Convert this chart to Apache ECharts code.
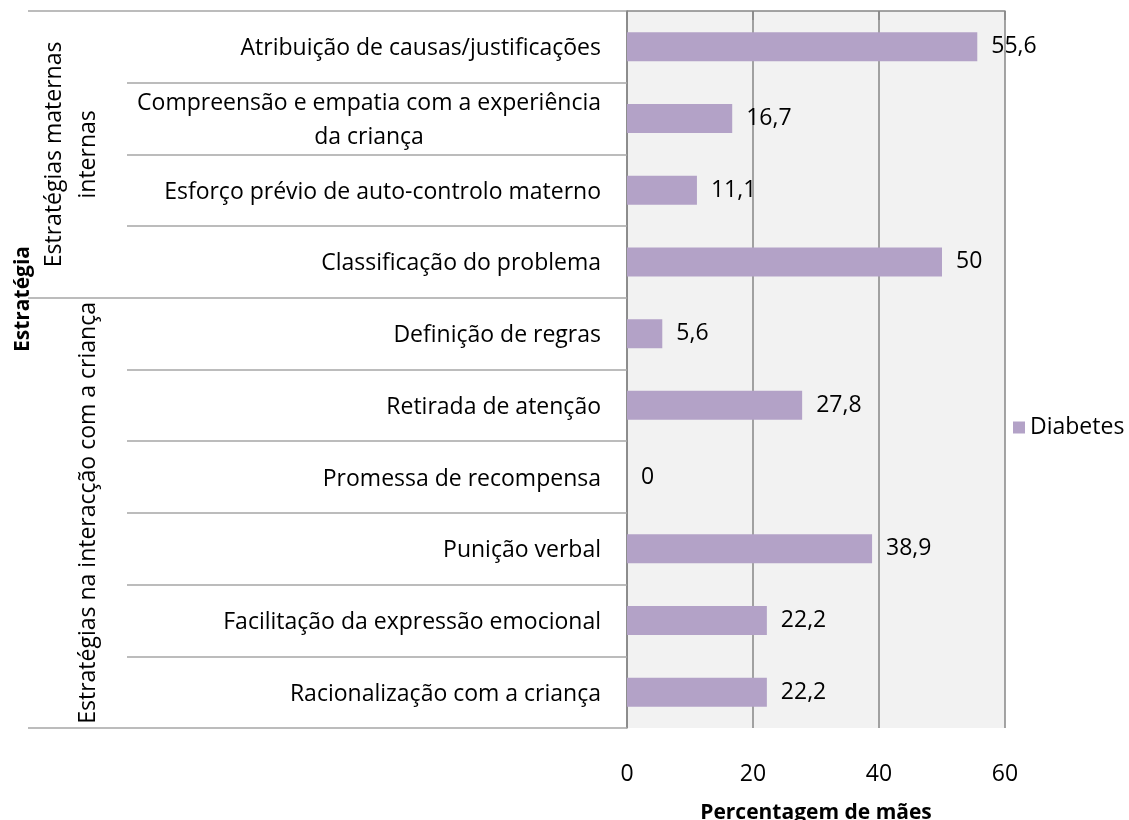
<!DOCTYPE html>
<html>
<head>
<meta charset="utf-8">
<script src="https://cdn.jsdelivr.net/npm/echarts@6/dist/echarts.min.js"></script>
<style>
  html, body { margin: 0; padding: 0; background: #fff; }
  #chart { width: 1129px; height: 820px; }
</style>
</head>
<body>
<div id="chart"></div>
<script>
// dados
const categorias = [
  'Atribuição de causas/justificações',
  'Compreensão e empatia com a experiência\nda criança',
  'Esforço prévio de auto-controlo materno',
  'Classificação do problema',
  'Definição de regras',
  'Retirada de atenção',
  'Promessa de recompensa',
  'Punição verbal',
  'Facilitação da expressão emocional',
  'Racionalização com a criança'
]
const diabetes = [55.6, 16.7, 11.1, 50, 5.6, 27.8, 0, 38.9, 22.2, 22.2]
const grupos = ['Estratégias maternas\ninternas', 'Estratégias na interacção com a criança']
const grupoInicio = [0, 4]
const grupoFim = [4, 10]
const xTicks = [0, 20, 40, 60]

const fonte = '"Open Sans", "Noto Sans", sans-serif'
const tam = 23
const tamNegrito = 21
const cinza = '#868686'
const cinzaClaro = '#a6a6a6'

// centro de cada grupo, em unidades de categoria
const grupoCentro = grupoInicio.map((s, i) => (s + grupoFim[i]) / 2)

let myChart = echarts.init(document.getElementById('chart'))
let option = {
  textStyle: { fontFamily: fonte },
  animation: false,
  legend: {
    data: ['Diabetes'],
    left: 1008,
    top: 411,
    icon: 'rect',
    itemWidth: 12,
    itemHeight: 12,
    itemGap: 5,
    textStyle: { fontSize: tam, color: '#000', fontFamily: fonte }
  },
  grid: {
    left: 627,
    right: 124,
    top: 11,
    bottom: 92,
    show: true,
    backgroundColor: '#f2f2f2',
    borderWidth: 0,
    outerBoundsMode: 'none'
  },
  graphic: [
    {
      type: 'text',
      x: 23,
      y: 299,
      rotation: Math.PI / 2,
      style: {
        text: 'Estratégia',
        font: 'bold ' + tamNegrito + 'px ' + fonte,
        fill: '#000',
        align: 'center',
        verticalAlign: 'middle'
      }
    }
  ],
  xAxis: {
    type: 'value',
    min: xTicks[0],
    max: xTicks[xTicks.length - 1],
    interval: xTicks[1] - xTicks[0],
    name: 'Percentagem de mães',
    nameLocation: 'middle',
    nameGap: 75,
    nameTextStyle: { fontSize: tamNegrito, fontWeight: 'bold', color: '#000', fontFamily: fonte },
    axisLine: { show: true, lineStyle: { color: cinza, width: 1.5 } },
    axisTick: { show: true, length: 9, lineStyle: { color: cinza, width: 1.5 } },
    axisLabel: { margin: 35, fontSize: tam, color: '#000', fontFamily: fonte },
    splitLine: { show: true, lineStyle: { color: cinza, width: 1.5 } }
  },
  yAxis: [
    {
      type: 'category',
      inverse: true,
      data: categorias,
      axisLine: { show: true, lineStyle: { color: cinza, width: 1.5 } },
      axisTick: { show: true, length: 500, lineStyle: { color: cinzaClaro, width: 1.5 } },
      axisLabel: {
        margin: 26,
        color: '#000',
        fontSize: tam,
        fontFamily: fonte,
        padding: [4, 0, 0, 0],
        formatter: function (v) {
          return v.split('\n').map(s => '{c|' + s + '}').join('\n')
        },
        rich: {
          c: { align: 'center', fontSize: tam, fontFamily: fonte, color: '#000', lineHeight: 34 }
        }
      },
      splitLine: { show: false }
    },
    {
      type: 'value',
      position: 'left',
      inverse: true,
      min: 0,
      max: categorias.length,
      axisLine: { show: false },
      splitLine: { show: false },
      axisTick: {
        show: true,
        length: 599,
        customValues: [0].concat(grupoFim),
        lineStyle: { color: cinzaClaro, width: 1.5 }
      },
      axisLabel: {
        show: true,
        customValues: grupoCentro,
        rotate: 90,
        margin: 522,
        fontSize: tam,
        lineHeight: 34,
        color: '#000',
        fontFamily: fonte,
        formatter: function (v) {
          let i = grupoCentro.indexOf(v)
          return i >= 0 ? grupos[i] : ''
        }
      }
    }
  ],
  series: [
    {
      name: 'Diabetes',
      type: 'bar',
      yAxisIndex: 0,
      barWidth: 29,
      data: diabetes,
      itemStyle: { color: '#b3a2c7' },
      label: {
        show: true,
        position: 'right',
        distance: 14,
        fontSize: tam,
        color: '#000',
        fontFamily: fonte,
        padding: [5, 0, 0, 0],
        formatter: function (p) {
          return String(p.value).replace('.', ',')
        }
      }
    }
  ]
}
myChart.setOption(option)
</script>
</body>
</html>
